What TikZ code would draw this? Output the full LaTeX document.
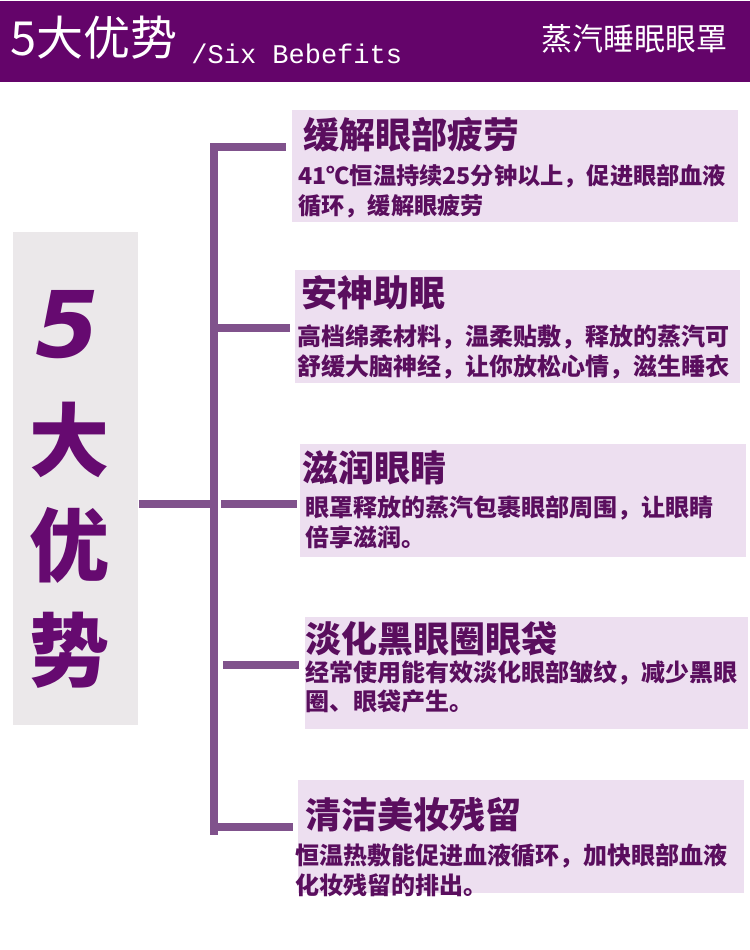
\documentclass[tikz,border=0pt]{standalone}
\usepackage{fontspec}
\setmainfont{Liberation Sans}
\newfontfamily\cjk{Noto Sans CJK SC}
\newfontfamily\digitfont{DejaVu Sans}
\newfontfamily\latinmono{Liberation Mono}
\definecolor{headpurple}{RGB}{100,4,106}
\definecolor{linepurple}{RGB}{128,82,140}
\definecolor{boxlilac}{RGB}{237,223,240}
\definecolor{boxgray}{RGB}{235,232,234}
\definecolor{textpurple}{RGB}{90,14,94}
\definecolor{bigpurple}{RGB}{102,10,112}

\begin{document}
\begin{tikzpicture}[x=0.5pt,y=-0.5pt,
  branch/.style={draw=linepurple,line width=4pt},
  card/.style={fill=boxlilac,inner sep=0pt,anchor=north west},
  heading/.style={anchor=west,inner sep=0pt,text=textpurple,font=\cjk\bfseries\fontsize{18}{20}\selectfont},
  blurb/.style={anchor=west,inner sep=0pt,align=left,text=textpurple,font=\cjk\bfseries\fontsize{12}{14.8}\selectfont},
  bigchar/.style={inner sep=0pt,text=bigpurple,font=\cjk\bfseries\fontsize{40}{40}\selectfont}]

\fill[white] (0,0) rectangle (750,950);

% header bar
\fill[headpurple] (0,1) rectangle (750,82);
\node[anchor=west,inner sep=0pt,text=white,font=\cjk\fontsize{23.5}{25}\selectfont] (htitle) at (10,38) {5大优势};
\node[anchor=base west,inner sep=0pt,text=white,font=\latinmono\fontsize{13.5}{15}\selectfont] (hsub) at (191,63) {/Six Bebefits};
\node[anchor=east,inner sep=0pt,text=white,font=\cjk\fontsize{15.5}{17}\selectfont] (hname) at (728,39) {蒸汽睡眠眼罩};

% left block
\node[fill=boxgray,inner sep=0pt,anchor=north west,minimum width=62.5pt,minimum height=246.5pt] (fivebox) at (13,232) {};
\node[inner sep=0pt,text=bigpurple,font=\digitfont\bfseries\itshape\fontsize{46}{46}\selectfont] (five) at (68,325) {5};
\node[bigchar] (da) at (70,440) {大};
\node[bigchar] (you) at (70,545) {优};
\node[bigchar] (shi) at (70,650) {势};

% cards
\node[card,minimum width=223pt,minimum height=56pt] (c1) at (292,110) {};
\node[card,minimum width=222.5pt,minimum height=56.5pt] (c2) at (295,270) {};
\node[card,minimum width=223pt,minimum height=56.5pt] (c3) at (300,444) {};
\node[card,minimum width=221.5pt,minimum height=56pt] (c4) at (305,617) {};
\node[card,minimum width=223pt,minimum height=56.5pt] (c5) at (298,780) {};

\node[heading] (t1) at (303,135) {缓解眼部疲劳};
\node[blurb,font=\cjk\bfseries\fontsize{11.6}{14.8}\selectfont] (b1) at (298,191) {41℃恒温持续25分钟以上，促进眼部血液\\循环，缓解眼疲劳};
\node[heading] (t2) at (301,293) {安神助眠};
\node[blurb] (b2) at (297,352) {高档绵柔材料，温柔贴敷，释放的蒸汽可\\舒缓大脑神经，让你放松心情，滋生睡衣};
\node[heading] (t3) at (302,468) {滋润眼睛};
\node[blurb] (b3) at (305,522) {眼罩释放的蒸汽包裹眼部周围，让眼睛\\倍享滋润。};
\node[heading] (t4) at (305,639) {淡化黑眼圈眼袋};
\node[blurb] (b4) at (305,687) {经常使用能有效淡化眼部皱纹，减少黑眼\\圈、眼袋产生。};
\node[heading] (t5) at (305,815) {清洁美妆残留};
\node[blurb] (b5) at (295,870) {恒温热敷能促进血液循环，加快眼部血液\\化妆残留的排出。};

% connectors
\coordinate (vtop) at (214,143);
\coordinate (vbot) at (214,835);
\coordinate (e1) at (286,147);
\coordinate (e2) at (290,328);
\coordinate (s3) at (221,504);
\coordinate (e3) at (297,504);
\coordinate (s4) at (223,665);
\coordinate (e4) at (299,665);
\coordinate (e5) at (293,827);
\draw[branch] (vtop) -- (vbot);
\draw[branch] (vtop |- e1) -- (e1);
\draw[branch] (vtop |- e2) -- (e2);
\draw[branch] (fivebox.east |- e3) -- (vtop |- e3);
\draw[branch] (s3) -- (e3);
\draw[branch] (s4) -- (e4);
\draw[branch] (vtop |- e5) -- (e5);
\end{tikzpicture}
\end{document}
